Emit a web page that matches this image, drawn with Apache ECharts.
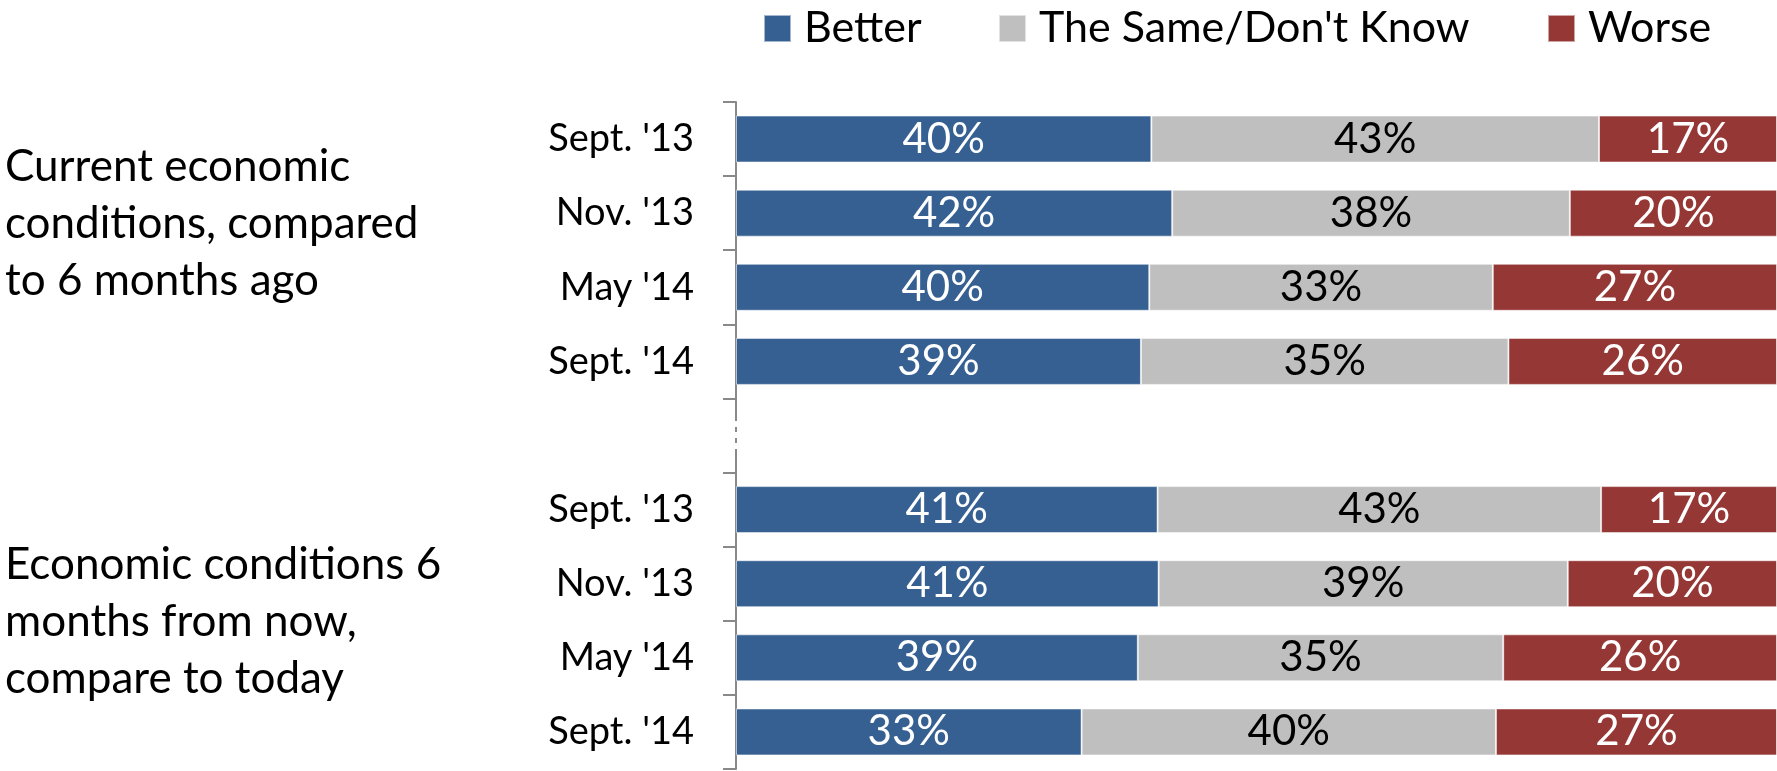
<!DOCTYPE html>
<html>
<head>
<meta charset="utf-8">
<script src="https://cdn.jsdelivr.net/npm/echarts@6/dist/echarts.min.js"></script>
<style>
  html, body { margin: 0; padding: 0; background: #fff; }
  #chart { width: 1777px; height: 771px; }
</style>
</head>
<body>
<div id="chart"></div>
<script>
// rows top to bottom, the empty one is the gap between the two questions
var categories = ["Sept. '13", "Nov. '13", "May '14", "Sept. '14", "", "Sept. '13", "Nov. '13", "May '14", "Sept. '14"];
var better = [39.9, 41.9, 39.7, 38.9, null, 40.5, 40.6, 38.6, 33.2];
var same = [43.0, 38.2, 33.0, 35.3, null, 42.6, 39.3, 35.1, 39.8];
var worse = [17.1, 19.9, 27.3, 25.8, null, 16.9, 20.1, 26.3, 27.0];
var seriesNames = ['Better', 'The Same/Don\'t Know', 'Worse'];
var groupLabels = ['Current economic\nconditions, compared\nto 6 months ago', 'Economic conditions 6\nmonths from now,\ncompare to today'];

var colorPalette = ['#366092', '#BFBFBF', '#953735'];
var font = 'Lato';

var chart = echarts.init(document.getElementById('chart'));

function barSeries(name, values, color, labelColor) {
  return {
    name: name,
    type: 'bar',
    stack: 'total',
    barWidth: 47,
    data: values,
    itemStyle: {
      color: color,
      borderColor: 'rgba(255,255,255,0.55)',
      borderWidth: 1
    },
    label: {
      show: true,
      position: 'inside',
      color: labelColor,
      fontFamily: font,
      fontSize: 42,
      formatter: function (p) { return Math.round(p.value) + '%'; }
    },
    emphasis: { disabled: true }
  };
}

function legendAt(name, left) {
  return {
    data: [name],
    left: left,
    top: 7,
    padding: 0,
    icon: 'rect',
    itemWidth: 27,
    itemHeight: 27,
    selectedMode: false,
    textStyle: {
      fontFamily: font,
      fontSize: 43,
      color: '#000',
      padding: [0, 0, 0, 8]
    }
  };
}

var option = {
  animation: false,
  legend: [
    legendAt(seriesNames[0], 763),
    legendAt(seriesNames[1], 998),
    legendAt(seriesNames[2], 1547)
  ],
  grid: {
    left: 736,
    right: 0,
    top: 102,
    height: 667
  },
  xAxis: {
    type: 'value',
    min: 0,
    max: 100,
    show: false
  },
  yAxis: {
    type: 'category',
    inverse: true,
    data: categories,
    axisLine: { show: true, lineStyle: { color: '#898989', width: 2 } },
    axisTick: { show: true, alignWithLabel: false, length: 13, lineStyle: { color: '#898989', width: 2 } },
    axisLabel: {
      margin: 42,
      color: '#000',
      fontFamily: font,
      fontSize: 38
    }
  },
  graphic: [
    {
      type: 'text',
      left: 5,
      top: 138,
      style: {
        text: groupLabels[0],
        fontFamily: font,
        fontSize: 44,
        lineHeight: 57,
        fill: '#000'
      }
    },
    {
      type: 'text',
      left: 5,
      top: 536,
      style: {
        text: groupLabels[1],
        fontFamily: font,
        fontSize: 44,
        lineHeight: 57,
        fill: '#000'
      }
    },
    {
      // small break in the axis line between the two groups
      type: 'line',
      z: 100,
      shape: { x1: 736, y1: 421, x2: 736, y2: 452 },
      style: { stroke: '#fff', lineWidth: 3, lineDash: [6, 5] }
    }
  ],
  series: [
    barSeries(seriesNames[0], better, colorPalette[0], '#fff'),
    barSeries(seriesNames[1], same, colorPalette[1], '#000'),
    barSeries(seriesNames[2], worse, colorPalette[2], '#fff')
  ]
};

chart.setOption(option);
</script>
</body>
</html>
